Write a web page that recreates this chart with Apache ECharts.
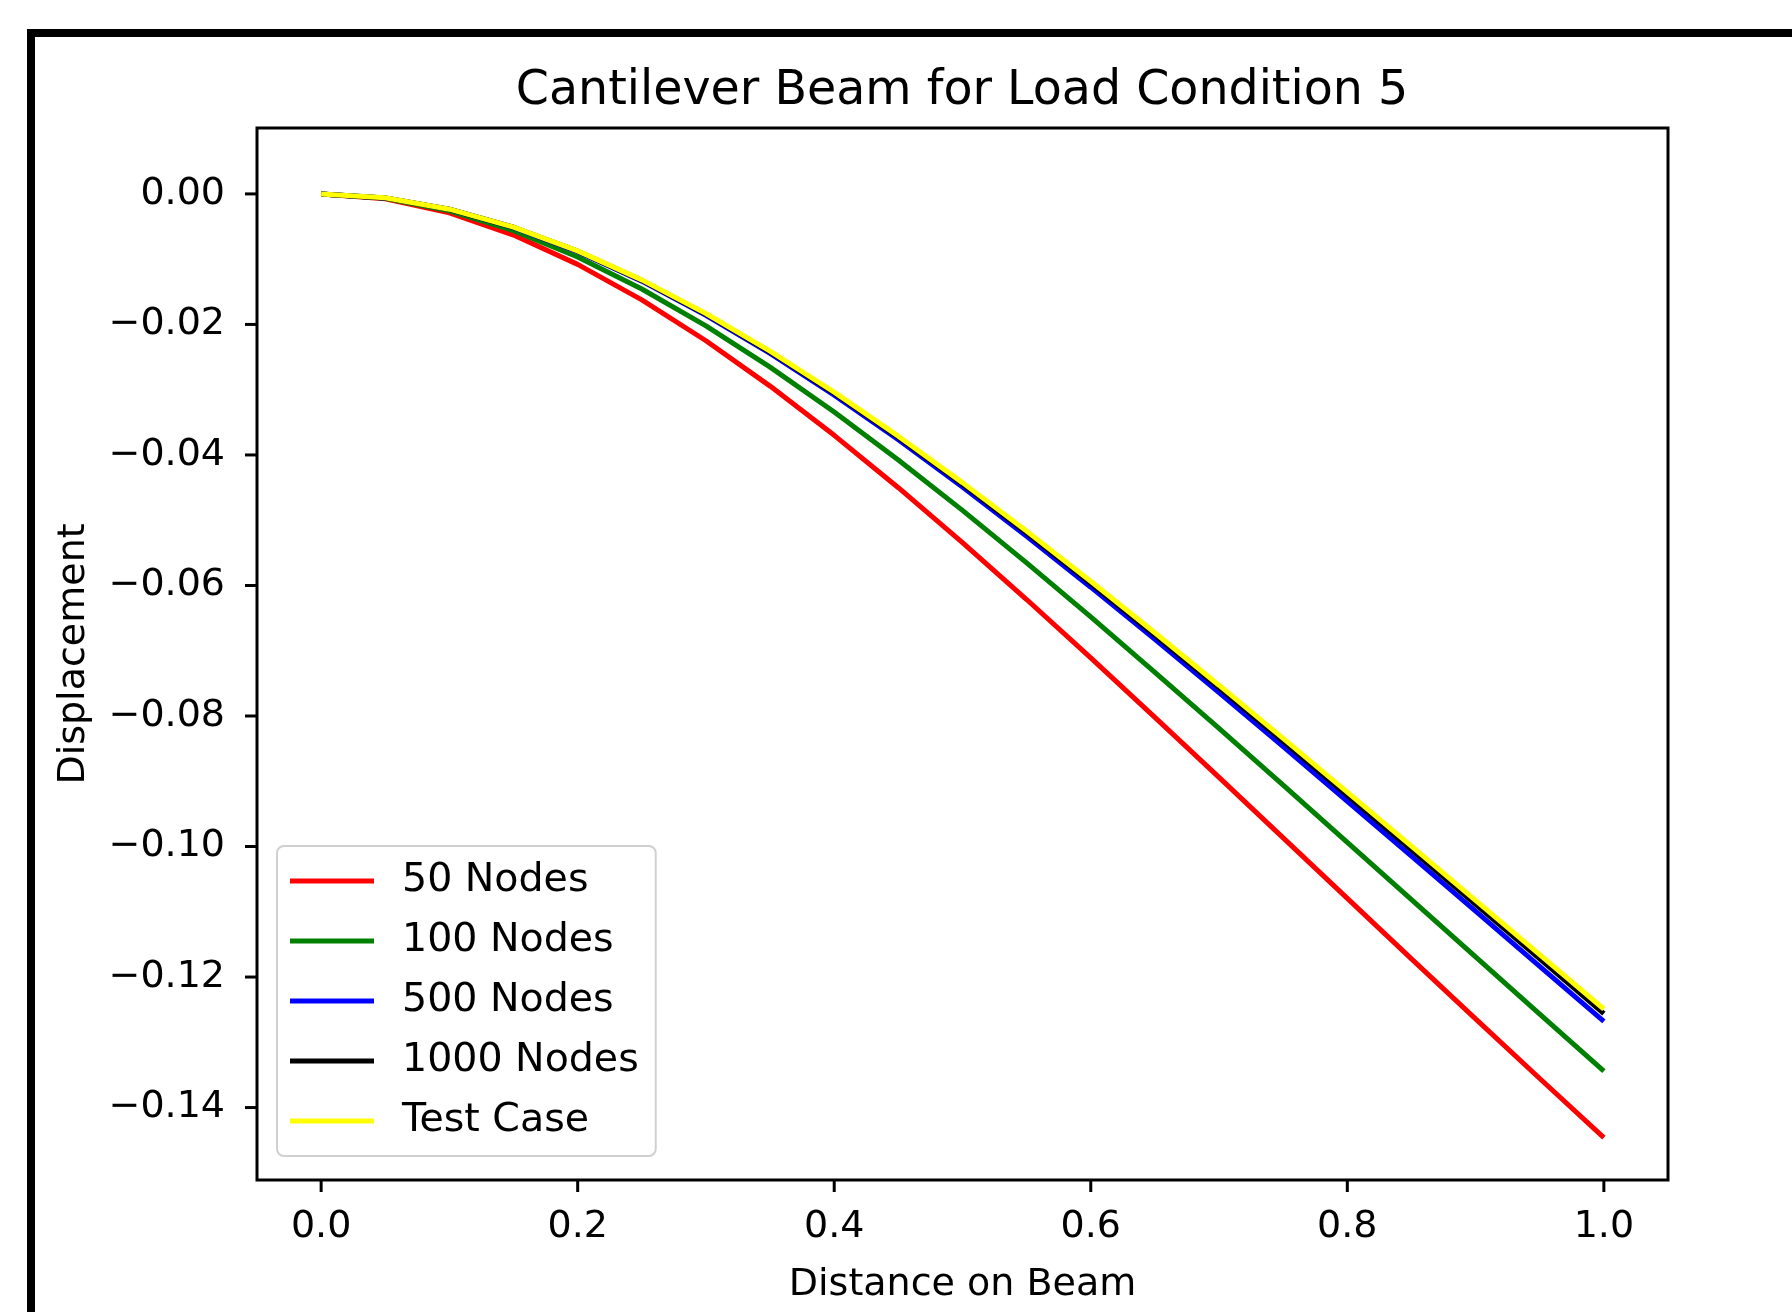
<!DOCTYPE html>
<html>
<head>
<meta charset="utf-8">
<title>Cantilever Beam for Load Condition 5</title>
<script src="https://cdn.jsdelivr.net/npm/echarts@6/dist/echarts.min.js"></script>
<style>
  html, body { margin: 0; padding: 0; background: #fff; }
  #main { width: 1792px; height: 1312px; }
</style>
</head>
<body>
<div id="main"></div>
<script>
// 横轴: 梁上的位置
const distance = [0, 0.05, 0.1, 0.15, 0.2, 0.25, 0.3, 0.35, 0.4, 0.45, 0.5,
  0.55, 0.6, 0.65, 0.7, 0.75, 0.8, 0.85, 0.9, 0.95, 1.0];

// 各网格的位移 (从图上读出来的)
const nodes50 = [0, -0.00076, -0.00291, -0.00631, -0.0108, -0.01624, -0.0225, -0.02945, -0.03699, -0.04502, -0.05343,
  -0.06215, -0.07109, -0.0802, -0.08941, -0.09868, -0.10795, -0.11721, -0.12641, -0.13555, -0.1446];
const nodes100 = [0, -0.00067, -0.0026, -0.00564, -0.00967, -0.01457, -0.02023, -0.02654, -0.03342, -0.04076, -0.04849,
  -0.05653, -0.06482, -0.0733, -0.08191, -0.09061, -0.09937, -0.10814, -0.11692, -0.12567, -0.1344];
const nodes500 = [0, -0.00061, -0.00237, -0.00516, -0.00886, -0.01337, -0.0186, -0.02445, -0.03084, -0.03768, -0.04491,
  -0.05245, -0.06026, -0.06826, -0.07642, -0.0847, -0.09306, -0.10146, -0.1099, -0.11835, -0.1268];
const nodes1000 = [0, -0.00061, -0.00235, -0.00511, -0.00878, -0.01325, -0.01843, -0.02422, -0.03055, -0.03733, -0.04448,
  -0.05196, -0.05969, -0.06762, -0.0757, -0.0839, -0.09217, -0.1005, -0.10886, -0.11723, -0.1256];
const testCase = [0, -0.0006, -0.00234, -0.00508, -0.00873, -0.01317, -0.01832, -0.02409, -0.03038, -0.03712, -0.04424,
  -0.05167, -0.05935, -0.06724, -0.07528, -0.08343, -0.09166, -0.09994, -0.10825, -0.11657, -0.1249];

// 刻度
const xTicks = [0, 0.2, 0.4, 0.6, 0.8, 1.0];
const yTicks = [0, -0.02, -0.04, -0.06, -0.08, -0.1, -0.12, -0.14];

const seriesNames = ["50 Nodes", "100 Nodes", "500 Nodes", "1000 Nodes", "Test Case"];
const seriesColors = ["#ff0000", "#008000", "#0000ff", "#000000", "#ffff00"];
const seriesData = [nodes50, nodes100, nodes500, nodes1000, testCase];

const xMin = -0.05, xMax = 1.05;
const yMin = -0.1511, yMax = 0.0101;
const font = "DejaVu Sans";

let myChart = echarts.init(document.getElementById("main"));

// 外面的黑框
const frame = {
  id: "frame",
  type: "rect",
  shape: { x: 31, y: 33, width: 2000, height: 2000 },
  style: { fill: "none", stroke: "#000", lineWidth: 8 },
  silent: true
};

option = {
  animation: false,
  backgroundColor: "#ffffff",
  title: {
    text: "Cantilever Beam for Load Condition 5",
    left: 957,
    top: 63,
    textAlign: "center",
    textStyle: { fontFamily: font, fontSize: 47.5, fontWeight: "normal", color: "#000" }
  },
  graphic: [frame],
  // 四周的边框用grid画
  grid: {
    left: 257,
    top: 128,
    right: 124,
    bottom: 132,
    show: true,
    borderColor: "#000",
    borderWidth: 3,
    backgroundColor: "transparent"
  },
  legend: {
    orient: "vertical",
    left: 277,
    top: 846,
    data: seriesNames,
    icon: "rect",
    itemWidth: 84,
    itemHeight: 5,
    itemGap: 16,
    padding: [13, 17, 13, 13],
    backgroundColor: "rgba(255,255,255,0.8)",
    borderColor: "#d0d0d0",
    borderWidth: 2,
    borderRadius: 7,
    textStyle: {
      fontFamily: font,
      fontSize: 39.5,
      lineHeight: 44,
      color: "#000",
      padding: [0, 0, 0, 23]
    }
  },
  xAxis: {
    type: "value",
    min: xMin,
    max: xMax,
    name: "Distance on Beam",
    nameLocation: "middle",
    nameGap: 86,
    nameTextStyle: { fontFamily: font, fontSize: 38, color: "#000" },
    splitLine: { show: false },
    axisLine: { show: false, onZero: false },
    axisTick: { show: false },
    axisLabel: {
      customValues: xTicks,
      margin: 28,
      fontFamily: font,
      fontSize: 38,
      color: "#000",
      formatter: function(v) {
        return v.toFixed(1);
      }
    }
  },
  yAxis: {
    type: "value",
    min: yMin,
    max: yMax,
    name: "Displacement",
    nameLocation: "middle",
    nameGap: 164,
    nameTextStyle: { fontFamily: font, fontSize: 38, color: "#000" },
    splitLine: { show: false },
    axisLine: { show: false, onZero: false },
    axisTick: { show: false },
    axisLabel: {
      customValues: yTicks,
      margin: 32,
      padding: [7, 0, 0, 0],
      fontFamily: font,
      fontSize: 38,
      color: "#000",
      formatter: function(v) {
        let s = Math.abs(v).toFixed(2);
        return v < -1e-9 ? "\u2212" + s : s;
      }
    }
  },
  series: seriesNames.map(function(name, i) {
    return {
      name: name,
      type: "line",
      showSymbol: false,
      color: seriesColors[i],
      lineStyle: { width: 5, color: seriesColors[i] },
      data: distance.map(function(x, j) {
        return [x, seriesData[i][j]];
      })
    };
  })
};

myChart.setOption(option);

// 刻度线: 位置用坐标轴换算出来, 朝外画
const tickLen = 12;
let ticks = [];
xTicks.forEach(function(v, i) {
  let p = myChart.convertToPixel({ gridIndex: 0 }, [v, yMin]);
  ticks.push({
    id: "xt" + i,
    type: "line",
    z: 100,
    shape: { x1: p[0], y1: p[1], x2: p[0], y2: p[1] + tickLen },
    style: { stroke: "#000", lineWidth: 3 },
    silent: true
  });
});
yTicks.forEach(function(v, i) {
  let p = myChart.convertToPixel({ gridIndex: 0 }, [xMin, v]);
  ticks.push({
    id: "yt" + i,
    type: "line",
    z: 100,
    shape: { x1: p[0] - tickLen, y1: p[1], x2: p[0], y2: p[1] },
    style: { stroke: "#000", lineWidth: 3 },
    silent: true
  });
});
myChart.setOption({ graphic: [frame].concat(ticks) });
</script>
</body>
</html>
